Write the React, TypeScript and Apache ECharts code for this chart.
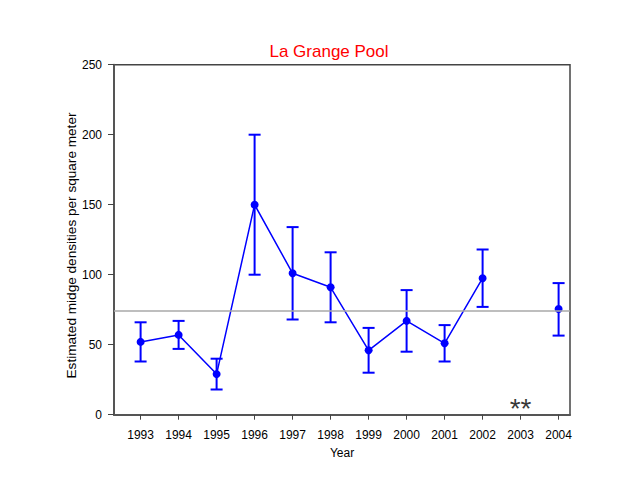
import React, { useEffect, useRef } from "react";
import * as echarts from "echarts";

const years = [1993, 1994, 1995, 1996, 1997, 1998, 1999, 2000, 2001, 2002, 2003, 2004];
const means: (number | null)[] = [52, 57, 29, 150, 101, 91, 46, 67, 51, 97.5, null, 75.5];
const lows: (number | null)[] = [38, 47, 18, 100, 68, 66, 30, 45, 38, 77, null, 56.5];
const highs: (number | null)[] = [66, 67, 40, 200, 134, 116, 62, 89, 64, 118, null, 94];
const yTicks = [0, 50, 100, 150, 200, 250];
const referenceLevel = 74;
const noteYear = 2003;
const noteText = "**";
const yTitle = "Estimated midge densities per square meter";

export default function App() {
  const ref = useRef<HTMLDivElement>(null);
  useEffect(() => {
    if (!ref.current) return;
    const chart = echarts.init(ref.current, null, { renderer: "svg" });
    const font = "'Liberation Sans', Arial, sans-serif";
    const lineData = years.map((y, i) => (means[i] == null ? [y, "-"] : [y, means[i]]));
    const errData = years
      .map((y, i) => (lows[i] == null ? null : [y, lows[i], highs[i]]))
      .filter((d) => d !== null);
    chart.setOption({
      animation: false,
      backgroundColor: "#ffffff",
      title: {
        text: "La Grange Pool",
        left: 324,
        top: 38,
        textAlign: "center",
        textStyle: { color: "#ff0000", fontSize: 17, fontWeight: "normal", fontFamily: font },
      },
      graphic: [
        {
          type: "text",
          x: 71,
          y: 245.5,
          rotation: Math.PI / 2,
          style: {
            text: yTitle,
            fill: "#000",
            fontSize: 13.6,
            fontFamily: font,
            textAlign: "center",
            textVerticalAlign: "middle",
          },
        },
      ],
      grid: {
        left: 114,
        top: 64.7,
        right: 70,
        bottom: 80.3,
        show: true,
        borderColor: "#444",
        borderWidth: 1.5,
        backgroundColor: "transparent",
      },
      xAxis: {
        type: "value",
        min: 1992.3,
        max: 2004.3,
        name: "Year",
        nameLocation: "middle",
        nameGap: 32,
        nameTextStyle: { color: "#000", fontSize: 12, fontFamily: font },
        splitLine: { show: false },
        axisLine: { show: true, lineStyle: { color: "#555", width: 2 } },
        axisTick: { show: true, length: 5, customValues: years, lineStyle: { color: "#444", width: 1 } },
        axisLabel: {
          customValues: years,
          color: "#000",
          fontSize: 12,
          fontFamily: font,
          margin: 14,
          formatter: (v: number) => String(v),
        },
      },
      yAxis: {
        type: "value",
        min: 0,
        max: 250,
        interval: 50,
        splitLine: { show: false },
        axisLine: { show: true, lineStyle: { color: "#555", width: 2 } },
        axisTick: { show: true, length: 6, customValues: yTicks, lineStyle: { color: "#444", width: 1 } },
        axisLabel: { customValues: yTicks, color: "#000", fontSize: 12, fontFamily: font, margin: 12 },
      },
      series: [
        {
          type: "custom",
          data: errData,
          z: 3,
          renderItem: (params: any, api: any) => {
            const x = api.value(0);
            const lo = api.coord([x, api.value(1)]);
            const hi = api.coord([x, api.value(2)]);
            const hw = 6;
            const style = { stroke: "#0000ff", lineWidth: 2 };
            return {
              type: "group",
              children: [
                { type: "line", shape: { x1: lo[0], y1: lo[1], x2: hi[0], y2: hi[1] }, style },
                { type: "line", shape: { x1: lo[0] - hw, y1: lo[1], x2: lo[0] + hw, y2: lo[1] }, style },
                { type: "line", shape: { x1: hi[0] - hw, y1: hi[1], x2: hi[0] + hw, y2: hi[1] }, style },
              ],
            };
          },
        },
        {
          type: "line",
          data: lineData,
          z: 4,
          connectNulls: false,
          symbol: "circle",
          symbolSize: 8,
          itemStyle: { color: "#0000ff" },
          lineStyle: { color: "#0000ff", width: 1.5 },
          markLine: {
            silent: true,
            symbol: "none",
            label: { show: false },
            lineStyle: { color: "#a8a8a8", width: 1.5, type: "solid" },
            data: [{ yAxis: referenceLevel }],
          },
        },
        {
          type: "scatter",
          data: [[noteYear, 4.4]],
          symbolSize: 0,
          label: {
            show: true,
            position: "inside",
            formatter: noteText,
            color: "#000",
            fontSize: 28,
            fontFamily: font,
          },
        },
      ],
    });
    return () => chart.dispose();
  }, []);
  return (
    <div
      ref={ref}
      style={{ position: "fixed", left: 0, top: 0, width: 640, height: 495 }}
    />
  );
}
